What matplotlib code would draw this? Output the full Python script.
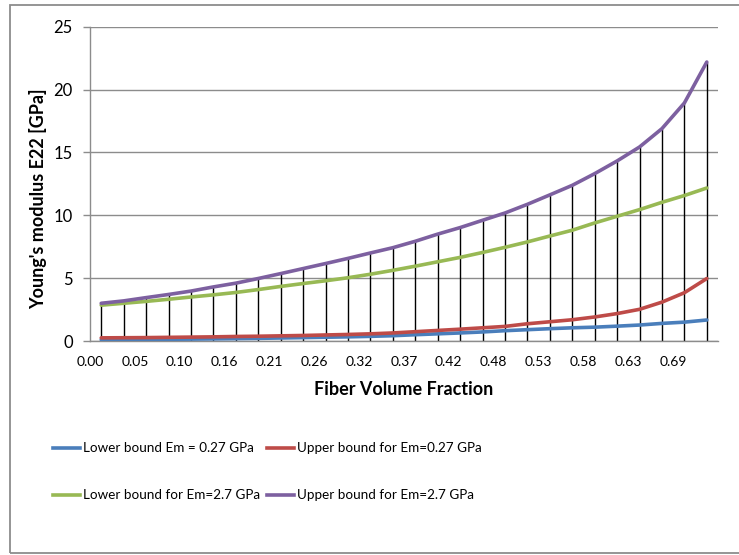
import numpy as np
import matplotlib.pyplot as plt
from matplotlib.lines import Line2D
from matplotlib.patches import Rectangle

plt.rcParams['font.family'] = ['Lato', 'DejaVu Sans']

# values (28 fiber volume fraction steps)
lower_027 = [0.10, 0.11, 0.12, 0.14, 0.15, 0.17, 0.19, 0.21, 0.24, 0.27, 0.30, 0.33, 0.37, 0.42,
             0.50, 0.57, 0.64, 0.72, 0.82, 0.90, 0.98, 1.05, 1.10, 1.18, 1.27, 1.40, 1.50, 1.67]
upper_027 = [0.25, 0.26, 0.27, 0.29, 0.31, 0.33, 0.36, 0.38, 0.41, 0.44, 0.48, 0.52, 0.57, 0.64,
             0.74, 0.84, 0.94, 1.05, 1.16, 1.37, 1.53, 1.69, 1.91, 2.18, 2.52, 3.09, 3.84, 4.97]
lower_27 = [2.85, 3.00, 3.15, 3.32, 3.50, 3.67, 3.86, 4.09, 4.34, 4.57, 4.79, 5.03, 5.31, 5.62,
            5.95, 6.30, 6.65, 7.04, 7.45, 7.88, 8.35, 8.81, 9.39, 9.92, 10.45, 11.03, 11.57, 12.17]
upper_27 = [3.00, 3.19, 3.45, 3.70, 3.97, 4.30, 4.60, 4.97, 5.36, 5.76, 6.16, 6.57, 7.00, 7.42,
            7.93, 8.50, 9.02, 9.60, 10.18, 10.87, 11.62, 12.38, 13.31, 14.32, 15.43, 16.89, 18.93, 22.19]

x_labels = ['0.00', '0.05', '0.10', '0.16', '0.21', '0.26', '0.32',
            '0.37', '0.42', '0.48', '0.53', '0.58', '0.63', '0.69']

series = [
    ('Lower bound Em = 0.27 GPa', lower_027, '#4A7EBB'),
    ('Upper bound for Em=0.27 GPa', upper_027, '#BE4B48'),
    ('Lower bound for Em=2.7 GPa', lower_27, '#98B954'),
    ('Upper bound for Em=2.7 GPa', upper_27, '#7D60A0'),
]

W, H = 739, 555
fig = plt.figure(figsize=(W / 100, H / 100), dpi=100)
ax = fig.add_axes([90 / W, 1 - 341 / H, (718 - 90) / W, (341 - 26.7) / H])

idx = np.arange(len(upper_27))
top = np.max([s[1] for s in series], axis=0)

# drop lines from the top series down to the axis
ax.vlines(idx, 0, top, colors='black', linewidth=1.0, zorder=2)

for label, vals, col in series:
    ax.plot(idx, vals, color=col, linewidth=2.6, solid_capstyle='round', zorder=3)

ax.set_xlim(-0.5, len(idx) - 0.5)
ax.set_ylim(0, 25)
ax.set_yticks(np.arange(0, 26, 5))
ax.yaxis.grid(True, color='#8c8c8c', linewidth=1.0)
ax.set_axisbelow(True)
ax.set_xticks(np.arange(0, len(idx), 2) - 0.5)
ax.set_xticklabels(x_labels)

for s in ['top', 'right']:
    ax.spines[s].set_visible(False)
for s in ['left', 'bottom']:
    ax.spines[s].set_color('#8c8c8c')
    ax.spines[s].set_linewidth(1.0)

ax.tick_params(axis='y', length=4.8, width=1.0, color='#8c8c8c', pad=7.5, labelsize=12)
ax.tick_params(axis='x', length=0, pad=11, labelsize=10)

ax.set_xlabel('Fiber Volume Fraction', fontsize=13, fontweight='bold')
ax.set_ylabel("Young's modulus E22 [GPa]", fontsize=13, fontweight='bold')
ax.xaxis.set_label_coords(0.5, (341 - 381) / (341 - 26.7))
ax.yaxis.set_label_coords((47 - 90) / (718 - 90), (341 - 199) / (341 - 26.7))

# outer chart border
fig.add_artist(Rectangle((10 / W, 1 - 553 / H), (W + 5 - 10) / W, (553 - 5) / H,
                         transform=fig.transFigure, fill=False,
                         edgecolor='#8c8c8c', linewidth=1.3))

# legend, two rows of two
legend_pos = [(53, 447.7), (267, 447.7), (53, 495), (267, 495)]
for (label, vals, col), (lx, ly) in zip(series, legend_pos):
    fig.add_artist(Line2D([lx / W, (lx + 27) / W], [1 - ly / H, 1 - ly / H],
                          transform=fig.transFigure, color=col, linewidth=2.6))
    fig.text((lx + 30) / W, 1 - ly / H, label, fontsize=9.7, va='center', ha='left')

fig.savefig('out.png', dpi=100)
